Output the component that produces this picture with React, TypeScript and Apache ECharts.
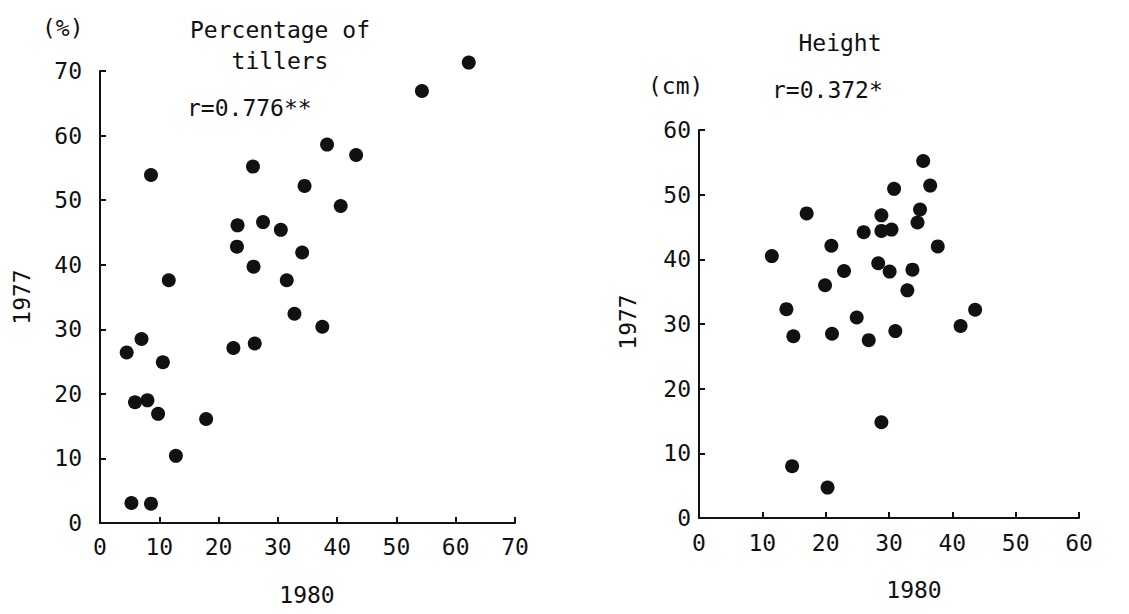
import React, { useEffect, useRef } from "react";
import * as echarts from "echarts";

const tillers1980 = [62.2, 54.3, 38.3, 43.2, 25.8, 8.6, 34.5, 40.6, 27.5, 23.2, 30.5, 23.1, 34.1, 25.9, 11.6, 31.5, 32.8, 37.5, 7.0, 4.5, 26.1, 22.5, 10.6, 5.9, 8.0, 9.8, 17.9, 12.8, 5.3, 8.6];
const tillers1977 = [71.3, 66.9, 58.6, 57.0, 55.2, 53.9, 52.2, 49.1, 46.6, 46.1, 45.4, 42.8, 41.9, 39.7, 37.6, 37.6, 32.4, 30.4, 28.5, 26.4, 27.8, 27.1, 24.9, 18.7, 19.0, 16.9, 16.1, 10.4, 3.1, 3.0];
const height1980 = [35.4, 36.5, 30.8, 17.0, 28.8, 34.9, 34.5, 26.0, 28.8, 30.4, 20.9, 37.7, 11.5, 28.3, 30.1, 22.9, 33.7, 19.9, 32.9, 13.8, 43.6, 24.9, 41.3, 31.0, 14.9, 21.0, 26.8, 28.8, 14.7, 20.3];
const height1977 = [55.2, 51.4, 50.9, 47.1, 46.8, 47.7, 45.7, 44.2, 44.4, 44.6, 42.1, 42.0, 40.5, 39.4, 38.1, 38.2, 38.4, 36.0, 35.2, 32.3, 32.2, 31.0, 29.7, 28.9, 28.1, 28.5, 27.5, 14.8, 8.0, 4.7];
const tillersTicks = [0, 10, 20, 30, 40, 50, 60, 70];
const heightTicks = [0, 10, 20, 30, 40, 50, 60];

const FONT = "'DejaVu Sans Mono', monospace";
const INK = "#111111";

function axisBase(max: number, margin: number) {
  return {
    type: "value" as const,
    min: 0,
    max,
    interval: 10,
    splitLine: { show: false },
    axisLine: { show: true, lineStyle: { color: INK, width: 2 } },
    axisTick: { show: true, inside: true, length: 6, lineStyle: { color: INK, width: 2 } },
    axisLabel: { color: INK, fontFamily: FONT, fontSize: 23, margin },
  };
}

function txt(text: string, x: number, y: number, align = "center", size = 23, rotation = 0) {
  return {
    type: "text",
    x,
    y,
    rotation,
    style: { text, font: `${size}px ${FONT}`, fill: INK, textAlign: align, textVerticalAlign: "middle" },
  };
}

export default function App() {
  const ref = useRef<HTMLDivElement>(null);
  useEffect(() => {
    if (!ref.current) return;
    const chart = echarts.init(ref.current, undefined, { renderer: "svg" });
    const pairs = (xs: number[], ys: number[]) => xs.map((x, i) => [x, ys[i]]);
    chart.setOption({
      animation: false,
      backgroundColor: "#ffffff",
      grid: [
        { left: 100, top: 71, width: 415, height: 452 },
        { left: 699, top: 130, width: 380, height: 388 },
      ],
      xAxis: [
        { ...axisBase(tillersTicks[tillersTicks.length - 1], 12), gridIndex: 0 },
        { ...axisBase(heightTicks[heightTicks.length - 1], 13), gridIndex: 1 },
      ],
      yAxis: [
        { ...axisBase(tillersTicks[tillersTicks.length - 1], 18), gridIndex: 0 },
        { ...axisBase(heightTicks[heightTicks.length - 1], 8), gridIndex: 1 },
      ],
      series: [
        {
          type: "scatter",
          xAxisIndex: 0,
          yAxisIndex: 0,
          clip: false,
          symbolSize: 14,
          itemStyle: { color: INK, opacity: 1 },
          data: pairs(tillers1980, tillers1977),
        },
        {
          type: "scatter",
          xAxisIndex: 1,
          yAxisIndex: 1,
          clip: false,
          symbolSize: 14,
          itemStyle: { color: INK, opacity: 1 },
          data: pairs(height1980, height1977),
        },
      ],
      graphic: [
        txt("(%)", 42, 28, "left"),
        txt("Percentage of", 280, 30),
        txt("tillers", 280, 61),
        txt("r=0.776**", 187, 108, "left"),
        txt("1980", 307, 595),
        txt("1977", 22, 297, "center", 23, Math.PI / 2),
        txt("Height", 840, 43),
        txt("(cm)", 648, 86, "left"),
        txt("r=0.372*", 772, 90, "left"),
        txt("1980", 914, 590),
        txt("1977", 628, 322, "center", 23, Math.PI / 2),
      ],
    });
    return () => chart.dispose();
  }, []);
  return <div ref={ref} style={{ position: "absolute", left: 0, top: 0, width: 1129, height: 614 }} />;
}
